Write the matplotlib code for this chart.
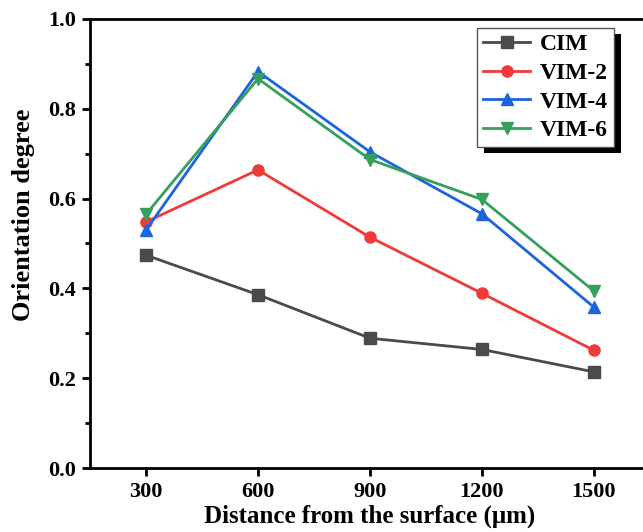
import matplotlib
matplotlib.use("Agg")
import matplotlib.pyplot as plt
from matplotlib.patches import Rectangle
from matplotlib.ticker import MultipleLocator

# Orientation degree versus distance from the surface
distance = [300, 600, 900, 1200, 1500]
cim = [0.474, 0.386, 0.289, 0.264, 0.214]
vim2 = [0.548, 0.664, 0.514, 0.389, 0.262]
vim4 = [0.530, 0.883, 0.704, 0.566, 0.358]
vim6 = [0.565, 0.867, 0.687, 0.598, 0.394]
series_names = ["CIM", "VIM-2", "VIM-4", "VIM-6"]
x_ticks = [300, 600, 900, 1200, 1500]
y_ticks = [0.0, 0.2, 0.4, 0.6, 0.8, 1.0]

colors = ["#4a4a4a", "#f03a3a", "#1d63dd", "#34a05c"]
markers = ["s", "o", "^", "v"]

plt.rcParams["font.family"] = ["Liberation Serif", "DejaVu Serif"]
plt.rcParams["font.weight"] = "bold"

fig = plt.figure(figsize=(6.43, 5.32), dpi=100)
ax = fig.add_axes([90 / 643, 64 / 532, 560 / 643, 449 / 532])

for vals, name, c, m in zip([cim, vim2, vim4, vim6], series_names, colors, markers):
    ax.plot(distance, vals, color=c, marker=m, markersize=8, linewidth=2.0,
            label=name)

ax.set_xlim(150, 1650)
ax.set_ylim(0, 1.0)
ax.set_xticks(x_ticks)
ax.set_yticks(y_ticks)
ax.yaxis.set_minor_locator(MultipleLocator(0.1))
ax.set_yticklabels([f"{v:.1f}" for v in y_ticks])

for side in ["left", "bottom", "top", "right"]:
    ax.spines[side].set_linewidth(2.0)

ax.tick_params(axis="both", which="major", direction="out", length=6, width=2.0,
               labelsize=16, pad=4)
ax.tick_params(axis="y", which="minor", direction="out", length=3.5, width=2.0)
ax.tick_params(top=False, right=False)
for lbl in ax.get_xticklabels() + ax.get_yticklabels():
    lbl.set_fontweight("bold")

ax.set_xlabel("Distance from the surface (\u03bcm)", fontsize=18, fontweight="bold",
              labelpad=2)
ax.set_ylabel("Orientation degree", fontsize=19, fontweight="bold")
ax.yaxis.set_label_coords(-0.098, 0.565)

leg = ax.legend(loc="upper left", bbox_to_anchor=(387 / 560, 1 - 9 / 449),
                prop={"size": 17, "weight": "bold"}, frameon=True, fancybox=False,
                handlelength=2.0, handletextpad=0.4, borderpad=0.25,
                labelspacing=0.3, borderaxespad=0)
frame = leg.get_frame()
frame.set_edgecolor("#555555")
frame.set_linewidth(1.0)
frame.set_alpha(1)

# solid drop shadow behind the legend box
fig.canvas.draw()
bb = leg.get_window_extent().transformed(fig.transFigure.inverted())
dx, dy = 7 / 643, 6 / 532
shadow = Rectangle((bb.x0 + dx, bb.y0 - dy), bb.width, bb.height,
                   transform=fig.transFigure, facecolor="black", edgecolor="none",
                   zorder=4.9, clip_on=False)
ax.add_patch(shadow)

fig.savefig("out.png", dpi=100)
